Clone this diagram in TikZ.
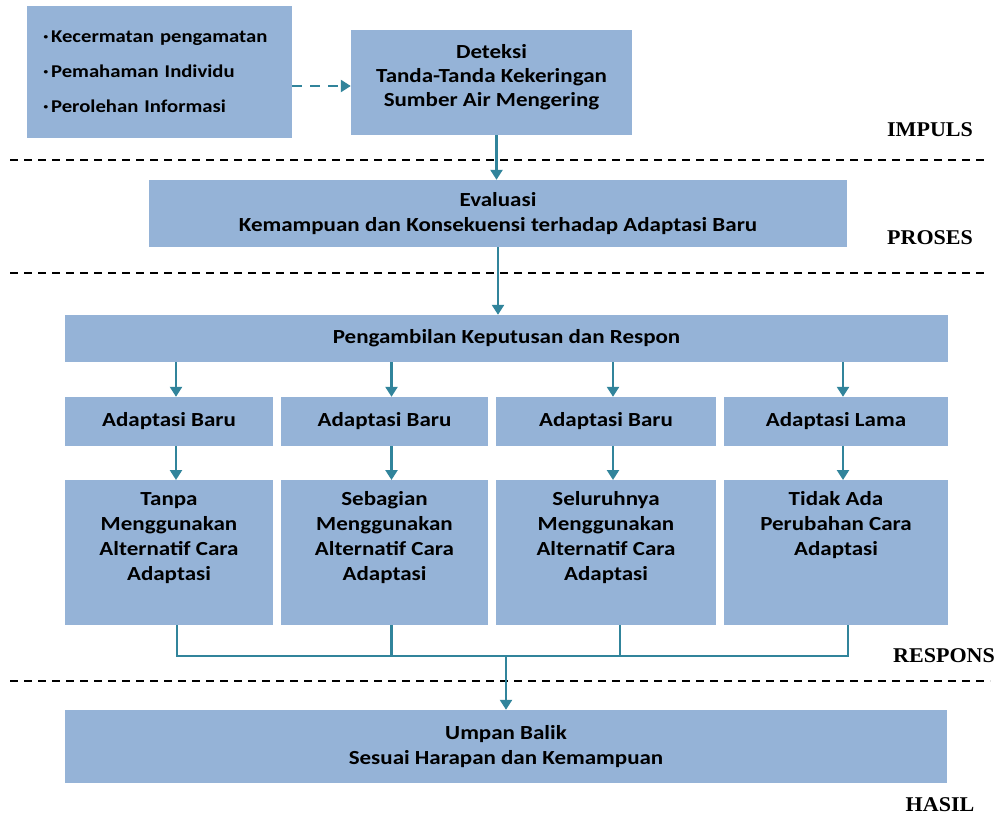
\documentclass[tikz,border=0pt]{standalone}
\usepackage{fontspec}
\setmainfont{Carlito}[FakeStretch=1.15]
\newfontfamily\labelfont{Liberation Serif}[FakeStretch=1.05]
\usetikzlibrary{arrows.meta}
\definecolor{boxblue}{HTML}{95B3D7}
\definecolor{arrteal}{HTML}{31849B}
\newcommand{\mybul}{\raisebox{0.35ex}{\footnotesize\textbullet}\hspace{3pt}}
\begin{document}
\begin{tikzpicture}[x=1pt,y=-1pt,
  bx/.style={fill=boxblue, draw=none, inner sep=0pt, align=center,
    font=\fontsize{20}{25}\selectfont\bfseries},
  arr/.style={draw=arrteal, line width=2.4pt, -{Triangle[length=10pt,width=12pt]}},
  conn/.style={draw=arrteal, line width=2.4pt},
  sep/.style={draw=black, line width=1.3pt, dash pattern=on 8pt off 6pt},
  lab/.style={font=\labelfont\fontsize{21}{24}\selectfont\bfseries, inner sep=0pt}]
\useasboundingbox (0,0) rectangle (1000,817);

% boxes
\node[bx, minimum width=265, minimum height=132, text width=232, align=left,
  font=\fontsize{18}{35}\selectfont\bfseries] (bul) at (159.5,72)
  {\mybul Kecermatan pengamatan\\ \mybul Pemahaman Individu\\ \mybul Perolehan Informasi};
\node[bx, minimum width=281, minimum height=105, font=\fontsize{20}{24}\selectfont\bfseries] (det) at (491.5,82.5)
  {Deteksi\\ Tanda-Tanda Kekeringan\\ Sumber Air Mengering\\[-17pt]\strut};
\node[bx, minimum width=698, minimum height=67] (eva) at (498,213.5)
  {Evaluasi\\ Kemampuan dan Konsekuensi terhadap Adaptasi Baru};
\node[bx, minimum width=883, minimum height=47] (pen) at (506.5,338.5)
  {Pengambilan Keputusan dan Respon};

\node[bx, minimum width=208, minimum height=49] (a1) at (169,421.5) {Adaptasi Baru};
\node[bx, minimum width=207, minimum height=49] (a2) at (384.5,421.5) {Adaptasi Baru};
\node[bx, minimum width=220, minimum height=49] (a3) at (606,421.5) {Adaptasi Baru};
\node[bx, minimum width=224, minimum height=49] (a4) at (836,421.5) {Adaptasi Lama};

\node[bx, minimum width=208, minimum height=145, anchor=north] (b1) at (169,480)
  {Tanpa\\ Menggunakan\\ Alternatif Cara\\ Adaptasi\\ \strut};
\node[bx, minimum width=207, minimum height=145, anchor=north] (b2) at (384.5,480)
  {Sebagian\\ Menggunakan\\ Alternatif Cara\\ Adaptasi\\ \strut};
\node[bx, minimum width=220, minimum height=145, anchor=north] (b3) at (606,480)
  {Seluruhnya\\ Menggunakan\\ Alternatif Cara\\ Adaptasi\\ \strut};
\node[bx, minimum width=224, minimum height=145, anchor=north] (b4) at (836,480)
  {Tidak Ada\\ Perubahan Cara\\ Adaptasi\\ \strut\\ \strut};

\node[bx, minimum width=882, minimum height=73] (umb) at (506,746.5)
  {Umpan Balik\\ Sesuai Harapan dan Kemampuan};

% side labels
\node[lab] (limp) at (930,130) {IMPULS};
\node[lab] (lpro) at (930,238) {PROSES};
\node[lab] (lres) at (944,656) {RESPONS};
\node[lab] (lhas) at (940,805) {HASIL};

% separators
\coordinate (s1a) at (10,160); \coordinate (s1b) at (985,160);
\coordinate (s2a) at (10,273); \coordinate (s2b) at (985,273);
\coordinate (s3a) at (10,681); \coordinate (s3b) at (990,681);
\draw[sep] (s1a) -- (s1b);
\draw[sep] (s2a) -- (s2b);
\draw[sep] (s3a) -- (s3b);

% connectors
\draw[arr, dash pattern=on 10pt off 8pt] ([yshift=-14]bul.east) -- ([yshift=-3.5]det.west);
\draw[arr] ([xshift=5]det.south) -- ([xshift=5]det.south |- eva.north);
\draw[arr] (eva.south) -- (eva.south |- pen.north);

\foreach \n in {1,2,3,4}{
  \draw[arr] ([xshift=7]a\n.north |- pen.south) -- ([xshift=7]a\n.north);
  \draw[arr] ([xshift=7]a\n.south) -- ([xshift=7]a\n.south |- b\n.north);
}

\coordinate (c1) at (177,656);
\coordinate (c4) at (848,656);
\coordinate (cm) at (506,656);
\draw[conn] ([xshift=8]b1.south) |- (c1) -- (c4) -- ([xshift=12]b4.south);
\draw[conn] ([xshift=7]b2.south) -- ([xshift=7]b2.south |- c1);
\draw[conn] ([xshift=14]b3.south) -- ([xshift=14]b3.south |- c1);
\draw[arr] (cm) -- (cm |- umb.north);
\end{tikzpicture}
\end{document}
